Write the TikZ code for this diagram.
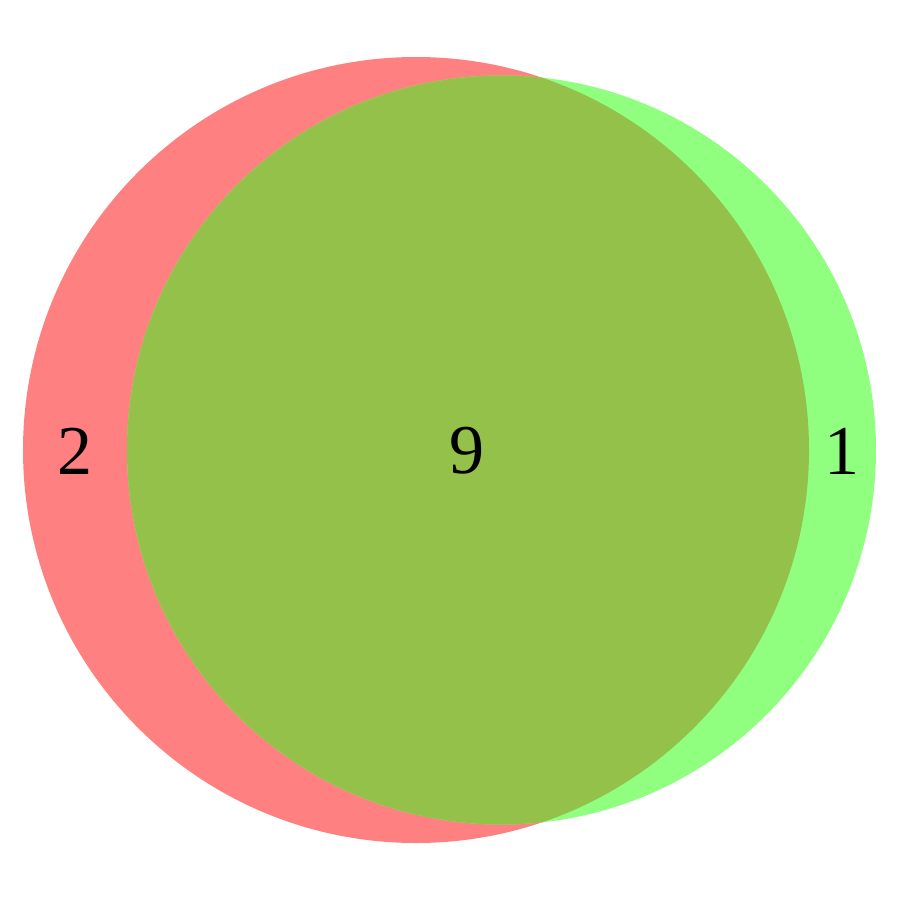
\documentclass[tikz,border=0pt]{standalone}
\usepackage{fontspec}
\setmainfont{Liberation Serif}
\begin{document}
\begin{tikzpicture}[x=0.5pt,y=-0.5pt,font=\fontsize{35}{40}\selectfont]
  \definecolor{setred}{HTML}{FF8080}
  \definecolor{setgreen}{HTML}{90FF80}
  \definecolor{setboth}{HTML}{93C149}
  \useasboundingbox (0,0) rectangle (900,900);

  % Himpunan
  \fill[setred] (416,450) circle (393);
  \fill[setgreen] (501.5,450) circle (374.5);
  \begin{scope}
    \clip (416,450) circle (393);
    \fill[setboth] (501.5,450) circle (374.5);
  \end{scope}

  % Banyak anggota
  \node (onlyred) at (75,451) {2};
  \node (both) at (467,451) {9};
  \node (onlygreen) at (842,451) {1};
\end{tikzpicture}
\end{document}
